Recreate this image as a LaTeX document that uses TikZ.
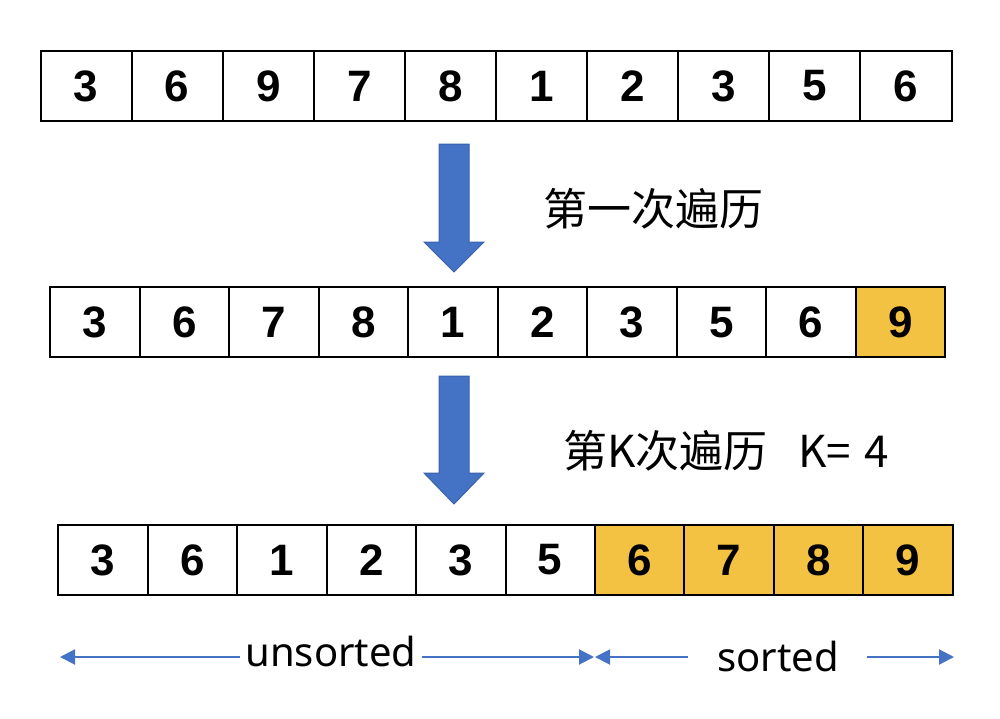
\documentclass[tikz,border=0pt]{standalone}
\usepackage{fontspec}
\setmainfont{Liberation Sans}
\newfontfamily\cjk{Noto Sans CJK SC}
\newfontfamily\lbl{Noto Sans}
\usetikzlibrary{arrows.meta}
\definecolor{gold}{HTML}{F4C243}
\definecolor{arrowblue}{HTML}{4472C4}
\definecolor{arrowedge}{HTML}{3A62AC}
\tikzset{
  cellbox/.style={draw=black, line width=2pt, minimum height=70pt, inner sep=0pt, anchor=west,
    font=\fontsize{44}{44}\selectfont\bfseries},
  donebox/.style={cellbox, fill=gold},
  blockarrow/.style={fill=arrowblue, draw=arrowedge, line width=1pt},
  span/.style={draw=arrowblue, line width=2pt, -{Triangle[length=15pt,width=15pt]}},
  cntext/.style={font=\fontsize{44}{44}\selectfont\cjk, inner sep=0pt},
  rangetext/.style={font=\fontsize{40}{40}\selectfont\lbl, inner sep=0pt, anchor=base}
}
\begin{document}
\begin{tikzpicture}[x=1pt,y=-1pt]
\useasboundingbox (0,0) rectangle (1000,718);
% row 1
\foreach \v [count=\i from 0] in {3,6,9,7,8,1,2,3,5,6}
  \node[cellbox, minimum width=91.1pt] (a\i) at ({39.5+91.1*\i},86) {\raisebox{-2pt}{\v}};
% row 2
\foreach \v [count=\i from 0] in {3,6,7,8,1,2,3,5,6}
  \node[cellbox, minimum width=89.5pt] (b\i) at ({49.3+89.5*\i},322.3) {\raisebox{-2pt}{\v}};
\node[donebox, minimum width=89.5pt] (b9) at ({49.3+89.5*9},322.3) {\raisebox{-2pt}{9}};
% row 3
\foreach \v [count=\i from 0] in {3,6,1,2,3,5}
  \node[cellbox, minimum width=89.44pt] (c\i) at ({57.3+89.44*\i},560) {\raisebox{-2pt}{\v}};
\foreach \v [count=\i from 6] in {6,7,8,9}
  \node[donebox, minimum width=89.44pt] (c\i) at ({57.3+89.44*\i},560) {\raisebox{-2pt}{\v}};
% block arrows
\draw[blockarrow] (439,144) -- (469,144) -- (469,242) -- (484,242) -- (454,272) -- (424,242) -- (439,242) -- cycle;
\draw[blockarrow] (439,376) -- (469,376) -- (469,473) -- (484,473) -- (454,504) -- (424,473) -- (439,473) -- cycle;
% labels
\node[cntext, anchor=west] (t1) at (543,209) {第一次遍历};
\node[cntext, anchor=west] (t2) at (563,451) {第K次遍历\hspace{0.7em}K=\hspace{0.3em}4};
% ranges
\node[rangetext] (uns) at (331,666) {unsorted};
\node[rangetext] (srt) at (778,671) {sorted};
\coordinate (u1) at (240,657);
\coordinate (u2) at (60,657);
\coordinate (u3) at (422,657);
\coordinate (u4) at (594,657);
\coordinate (s1) at (688,657);
\coordinate (s2) at (595,657);
\coordinate (s3) at (867,657);
\coordinate (s4) at (954,657);
\draw[span] (u1) -- (u2);
\draw[span] (u3) -- (u4);
\draw[span] (s1) -- (s2);
\draw[span] (s3) -- (s4);
\end{tikzpicture}
\end{document}
